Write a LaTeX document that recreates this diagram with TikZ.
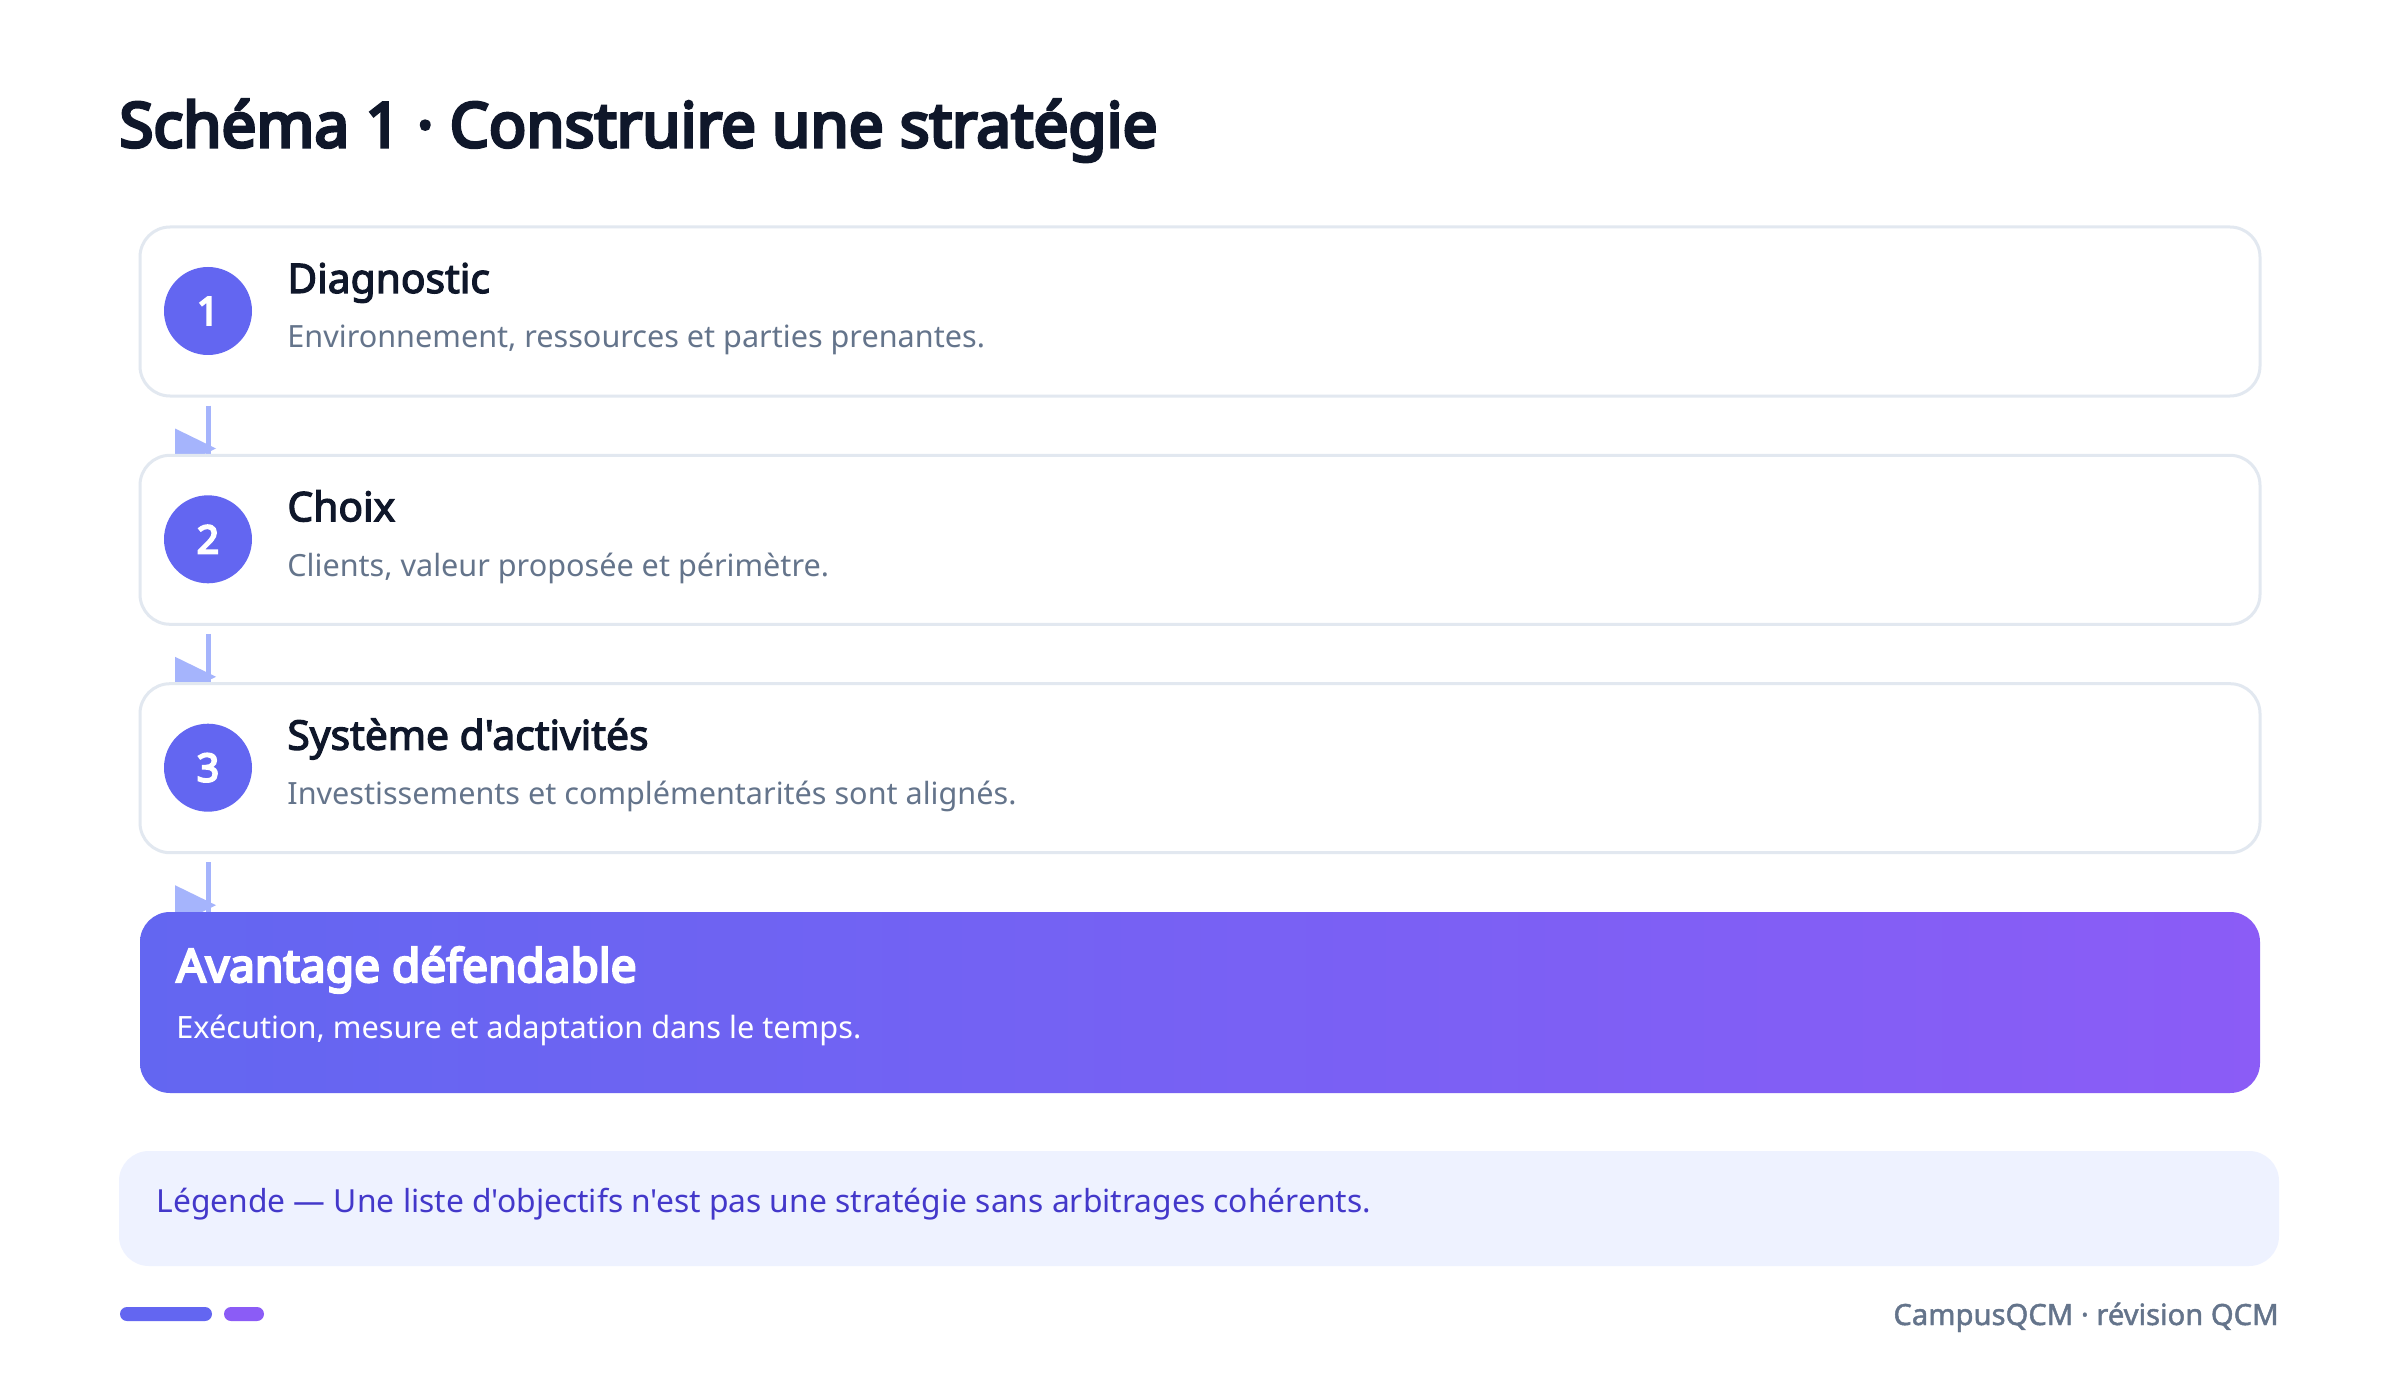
\documentclass[tikz,border=0pt]{standalone}
\usepackage{fontspec}
\setmainfont{Noto Sans}[Ligatures=TeXOff, AutoFakeBold=3]
\newfontfamily\heavyfont{Noto Sans}[Ligatures=TeXOff, FakeBold=5]
\newfontfamily\semifont{Noto Sans}[Ligatures=TeXOff, FakeBold=1.6]
\usetikzlibrary{calc}
\definecolor{ink}{HTML}{0F172A}
\definecolor{indigo}{HTML}{6366F1}
\definecolor{violet}{HTML}{8B5CF6}
\definecolor{slate}{HTML}{64748B}
\definecolor{cardline}{HTML}{E2E8F0}
\definecolor{arrowc}{HTML}{A5B4FC}
\definecolor{legendbg}{HTML}{EEF2FF}
\definecolor{legendtx}{HTML}{4338CA}
\pgfdeclarelayer{paper}
\pgfdeclarelayer{bg}
\pgfsetlayers{paper,bg,main}
\begin{document}
\begin{tikzpicture}[x=0.5pt,y=-0.5pt,
  card/.style={draw=cardline, line width=1.5pt, fill=white, rounded corners=15pt,
    minimum width=1060pt, minimum height=84.5pt, inner sep=0pt},
  finalcard/.style={rounded corners=15pt, left color=indigo, right color=violet,
    minimum width=1060pt, minimum height=90.5pt, inner sep=0pt},
  legendbox/.style={fill=legendbg, rounded corners=15pt,
    minimum width=1080pt, minimum height=57.5pt, inner sep=0pt},
  badge/.style={circle, fill=indigo, minimum size=44pt, inner sep=0pt, text=white,
    font=\heavyfont\fontsize{19.5}{20}\selectfont},
  ttl/.style={anchor=base west, inner sep=0pt, text=ink, font=\fontsize{20.4}{22}\selectfont\bfseries},
  sub/.style={anchor=base west, inner sep=0pt, text=slate, font=\fontsize{15.3}{16}\selectfont},
  link/.style={draw=arrowc, line width=2.5pt},
  headfill/.style={fill=arrowc},
]
\begin{pgfonlayer}{paper}
\fill[white] (0,0) rectangle (2400,1375);
\end{pgfonlayer}
\useasboundingbox (0,0) rectangle (2400,1375);

% title
\node[anchor=base west, inner sep=0pt, text=ink, font=\heavyfont\fontsize{31}{32}\selectfont]
  (title) at (119,147) {Schéma 1 · Construire une stratégie};

% cards
\node[card] (b1) at (1200,311.5) {};
\node[card] (b2) at (1200,539.8) {};
\node[card] (b3) at (1200,768.2) {};
\node[finalcard] (b4) at (1200,1002.5) {};

\node[badge] (c1) at (208,311) {1};
\node[badge] (c2) at (208,539.3) {2};
\node[badge] (c3) at (208,767.7) {3};

\node[ttl] (t1) at (287,293) {Diagnostic};
\node[sub] (s1) at (287,348) {Environnement, ressources et parties prenantes.};
\node[ttl] (t2) at (287,521.3) {Choix};
\node[sub] (s2) at (287,576.3) {Clients, valeur proposée et périmètre.};
\node[ttl] (t3) at (287,749.7) {Système d'activités};
\node[sub] (s3) at (287,804.7) {Investissements et complémentarités sont alignés.};

\node[anchor=base west, inner sep=0pt, text=white, font=\heavyfont\fontsize{23}{24}\selectfont]
  (t4) at (176,982) {Avantage défendable};
\node[anchor=base west, inner sep=0pt, text=white, font=\fontsize{15.35}{16}\selectfont]
  (s4) at (176,1038) {Exécution, mesure et adaptation dans le temps.};

% connectors
\begin{pgfonlayer}{bg}
\foreach \a/\b in {b1/b2, b2/b3, b3/b4}{
  \draw[link] ([yshift=-4pt]\a.south -| c1) -- (\b.north -| c1);
  \fill[headfill] ($(\a.south -| c1)+(-33,31)$) -- ($(\a.south -| c1)+(8,51)$)
     -- ($(\a.south -| c1)+(-33,71)$) -- cycle;
}
\end{pgfonlayer}

% legend
\node[legendbox] (lg) at (1199,1208.5) {};
\node[anchor=base west, inner sep=0pt, text=legendtx, font=\fontsize{15.9}{17}\selectfont]
  (lgt) at (156,1212) {Légende — Une liste d'objectifs n'est pas une stratégie sans arbitrages cohérents.};

% footer
\fill[indigo, rounded corners=3.5pt] (120,1307) rectangle (212,1321);
\fill[violet, rounded corners=3.5pt] (224,1307) rectangle (264,1321);
\node[anchor=base east, inner sep=0pt, text=slate, font=\semifont\fontsize{14.6}{16}\selectfont]
  (ft) at (2279,1325) {CampusQCM · révision QCM};
\end{tikzpicture}
\end{document}
